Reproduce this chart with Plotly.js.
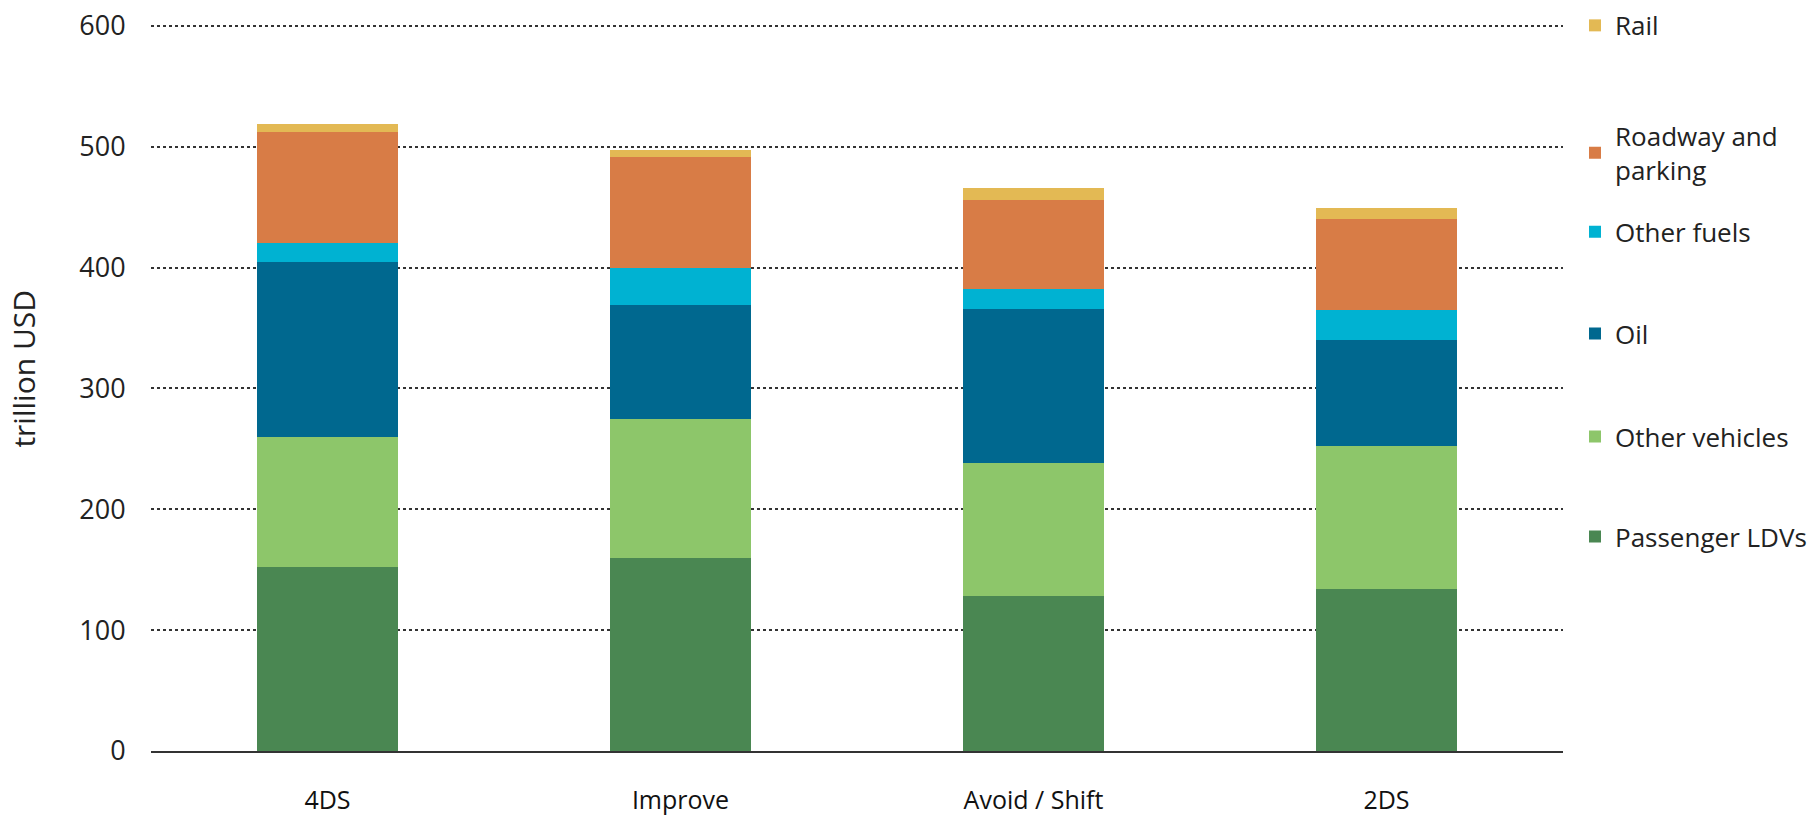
<!DOCTYPE html>
<html>
<head>
<meta charset="utf-8">
<script src="https://cdn.plot.ly/plotly-3.0.1.min.js"></script>
<style>
  html, body { margin: 0; padding: 0; background: #ffffff; }
  #chart { width: 1819px; height: 819px; }
</style>
</head>
<body>
<div id="chart"></div>
<script>
// Categories (scenarios)
const categories = ['4DS', 'Improve', 'Avoid / Shift', '2DS'];

// Series values (trillion USD)
const passengerLDVs   = [152, 160, 128.5, 134];
const otherVehicles   = [108, 115, 110, 118];
const oil             = [144.5, 94, 127.5, 88];
const otherFuels      = [15.5, 31, 16, 25];
const roadwayParking  = [92, 91.5, 73.5, 75.5];
const rail            = [6.5, 6, 10.5, 9];

// Series names
const seriesNames = ['Passenger LDVs', 'Other vehicles', 'Oil', 'Other fuels', 'Roadway and<br>parking', 'Rail'];

// Axis texts
const yAxisTitle = 'trillion USD';
const yTickVals = [0, 100, 200, 300, 400, 500, 600];
const yTickText = ['0', '100', '200', '300', '400', '500', '600'];

const seriesValues = [passengerLDVs, otherVehicles, oil, otherFuels, roadwayParking, rail];
const seriesColors = ['#4a8752', '#8dc66a', '#00688f', '#00b2d2', '#d87c46', '#e3b954'];
const legendIds = ['legend6', 'legend5', 'legend4', 'legend3', 'legend2', 'legend'];
const legendY = [0.2948, 0.4323, 0.574, 0.714, 0.8227, 0.998];

const legendFont = { family: '"Liberation Sans Narrow", "Arial Narrow", "Open Sans", sans-serif', size: 26, color: '#222222' };

const traces = seriesValues.map((vals, i) => ({
  type: 'bar',
  name: seriesNames[i],
  x: categories,
  y: vals,
  marker: { color: seriesColors[i], line: { width: 0 } },
  legend: legendIds[i],
  hoverinfo: 'skip'
}));

const layout = {
  width: 1819,
  height: 819,
  paper_bgcolor: '#ffffff',
  plot_bgcolor: '#ffffff',
  barmode: 'stack',
  bargap: 0.6,
  margin: { l: 151, r: 256, t: 24, b: 67.5, autoexpand: false },
  showlegend: true,
  xaxis: {
    type: 'category',
    tickfont: { family: '"Liberation Sans Narrow", "Arial Narrow", "Open Sans", sans-serif', size: 25, color: '#111111' },
    ticks: 'outside',
    ticklen: 26,
    tickcolor: 'rgba(0,0,0,0)',
    showline: true,
    linecolor: '#333333',
    linewidth: 2,
    showgrid: false,
    zeroline: false
  },
  yaxis: {
    range: [0, 601.5],
    tickvals: yTickVals,
    ticktext: yTickText,
    tickfont: { family: '"Open Sans", sans-serif', size: 27, color: '#222222' },
    ticks: 'outside',
    ticklen: 19,
    tickcolor: 'rgba(0,0,0,0)',
    showgrid: true,
    gridcolor: '#333333',
    gridwidth: 2,
    griddash: 'dot',
    zeroline: false,
    showline: false
  },
  annotations: [{
    text: yAxisTitle,
    xref: 'paper', yref: 'paper',
    x: 0, y: 0.526,
    xanchor: 'center', yanchor: 'middle',
    xshift: -127,
    textangle: -90,
    showarrow: false,
    font: { family: '"Open Sans", sans-serif', size: 30, color: '#222222' }
  }]
};

legendIds.forEach((id, i) => {
  layout[id] = {
    x: 1.0085,
    xanchor: 'left',
    y: legendY[i],
    yanchor: 'middle',
    bgcolor: 'rgba(0,0,0,0)',
    borderwidth: 0,
    font: legendFont
  };
});

Plotly.newPlot('chart', traces, layout, { displayModeBar: false, staticPlot: true });
</script>
</body>
</html>
